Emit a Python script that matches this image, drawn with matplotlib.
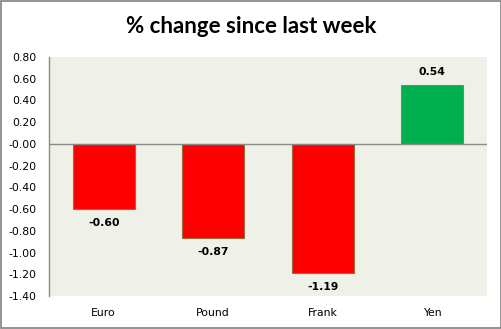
import matplotlib.pyplot as plt
import numpy as np

categories = ["Euro", "Pound", "Frank", "Yen"]
values = [-0.60, -0.87, -1.19, 0.54]
labels = ["-0.60", "-0.87", "-1.19", "0.54"]
yticks = np.arange(-1.4, 0.81, 0.2)

fig = plt.figure(figsize=(5.02, 3.29), dpi=100)
fig.patch.set_facecolor("white")
fig.patches.append(plt.Rectangle((0.001, 0.002), 0.997, 0.995, transform=fig.transFigure,
                                 fill=False, edgecolor="#808080", linewidth=1.2))

ax = fig.add_axes([0.0976, 0.1003, 0.8725, 0.7264])
ax.set_facecolor("#eff1e9")

x = np.arange(len(categories))
cols = ["#ff0000" if v < 0 else "#00b050" for v in values]
edges = ["#9c6b3c" if v < 0 else "#5f9a4a" for v in values]
ax.bar(x, values, width=0.57, color=cols, edgecolor=edges, linewidth=0.8, zorder=2)
ax.axhline(0, color="#8a8a8a", linewidth=1, zorder=3)

for xi, v, t in zip(x, values, labels):
    off = -14 if v < 0 else 13
    ax.annotate(t, (xi, v), xytext=(0, off), textcoords="offset pixels",
                ha="center", va="center", fontsize=7.8, fontweight="bold",
                family="DejaVu Sans")

ax.set_xlim(-0.5, 3.5)
ax.set_ylim(-1.4, 0.8)
ax.set_yticks(yticks)
ax.set_yticklabels([f"{t:.2f}" for t in yticks], fontsize=7.8)
ax.set_xticks(x)
ax.set_xticklabels(categories, fontsize=7.8)
ax.tick_params(axis="both", length=0)
ax.tick_params(axis="x", pad=8.5)
ax.tick_params(axis="y", pad=9)
for s in ["top", "right", "bottom"]:
    ax.spines[s].set_visible(False)
ax.spines["left"].set_color("#8a8a8a")
ax.spines["left"].set_linewidth(1)

fig.text(0.5, 0.918, "% change since last week", ha="center", va="center",
         fontsize=16, fontweight="bold", family="Lato")

fig.savefig("out.png", dpi=100)
